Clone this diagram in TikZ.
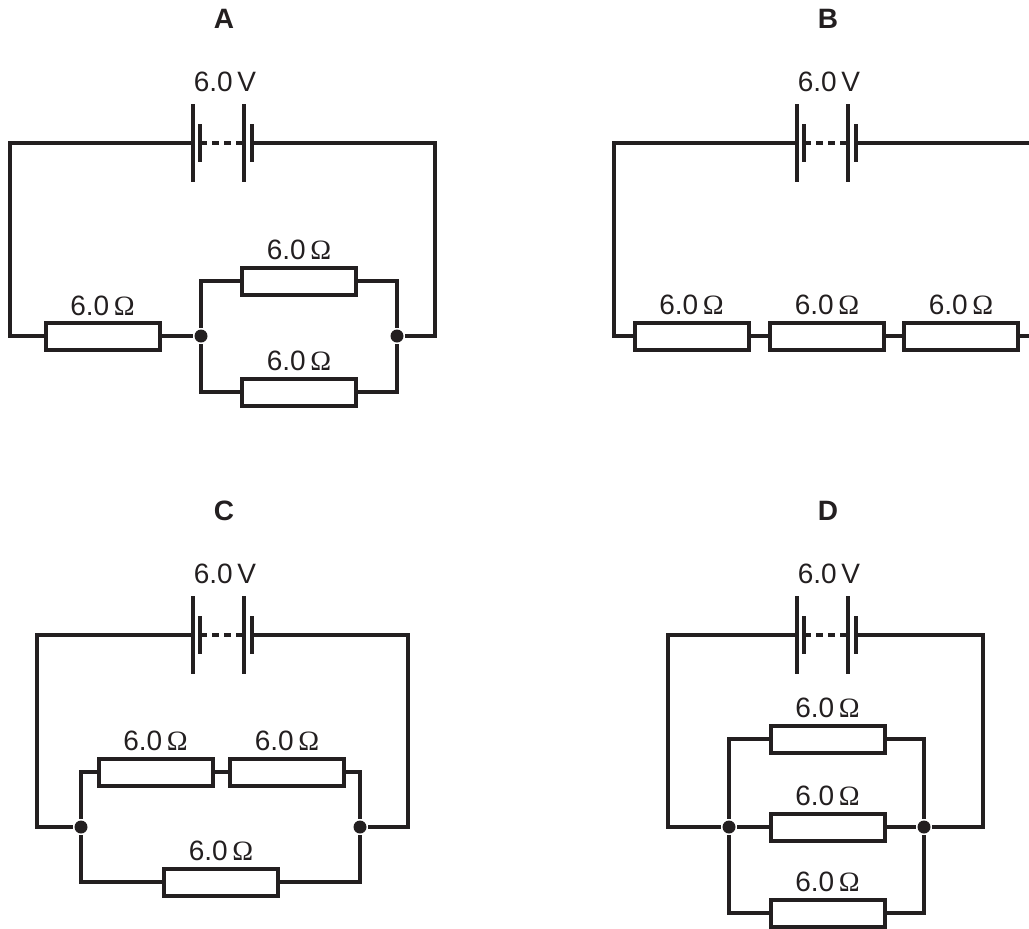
\documentclass[tikz,border=0pt]{standalone}
\usepackage{fontspec}
\setmainfont{Liberation Sans}
\newfontfamily\ohmfont{Liberation Serif}
\usepackage{tikz}
\usetikzlibrary{positioning,calc}
\definecolor{ink}{HTML}{231F20}
\newcommand{\ohms}{6.0\,{\ohmfont Ω}}

\begin{document}
\begin{tikzpicture}[x=0.5pt,y=-0.5pt,
    line width=1.7pt, draw=ink, text=ink,
    res/.style={draw, fill=white, rectangle, line width=2pt, inner sep=0pt, minimum width=57pt, minimum height=13.5pt},
    dot/.style={circle, fill=ink, draw=none, inner sep=0pt, minimum size=6.5pt},
    val/.style={inner sep=0pt, font=\fontsize{14}{16}\selectfont},
    title/.style={inner sep=0pt, font=\fontsize{14}{16}\selectfont\bfseries}]
    \useasboundingbox (0,0) rectangle (1029,928);
    \clip (0,0) rectangle (1029,928);

    % Batteries, titles and e.m.f. labels
    \foreach \c/\x/\y in {A/193/143, B/797/143, C/193/635, D/797/635}{
        \node[title] (title-\c) at (\x+31,\y-124) {\c};
        \node[val] (emf-\c) at (\x+32,\y-61) {6.0\,V};
        \coordinate (bat-\c-l) at (\x,\y); % negative terminal
        \coordinate (bat-\c-r) at (\x+59,\y); % positive terminal
        \draw (\x,\y-39) -- (\x,\y+39); % long plate
        \draw (\x+7,\y-19) -- (\x+7,\y+19); % short plate
        \draw[dash pattern=on 3.5pt off 2.5pt] (\x+7,\y) -- (\x+51,\y);
        \draw (\x+51,\y-39) -- (\x+51,\y+39);
        \draw (\x+59,\y-19) -- (\x+59,\y+19);
    }

    % Circuit A
    \coordinate (A-tl) at (10,143);
    \coordinate (A-br) at (435,336);
    \node[res] (A-R1) at (102.5,336) {};
    \node[res] (A-R2) at (299,281) {};
    \node[res] (A-R3) at (299,392) {};
    \node[val] (A-v1) at (102.5,306) {\ohms};
    \node[val] (A-v2) at (299,250) {\ohms};
    \node[val] (A-v3) at (299,361) {\ohms};
    \node[dot] (A-j1) at (201,336) {};
    \node[dot] (A-j2) at (397,336) {};
    \draw (bat-A-l) -- (A-tl) |- (A-R1);
    \draw (A-R1) -- (A-j1);
    \draw (A-j1) |- (A-R2);
    \draw (A-R2) -| (A-j2);
    \draw (A-j1) |- (A-R3);
    \draw (A-R3) -| (A-j2);
    \draw (A-j2) -- (A-br) |- (bat-A-r);

    % Circuit B
    \coordinate (B-tl) at (614,143);
    \coordinate (B-br) at (1040,336);
    \node[res] (B-R1) at (691.5,336) {};
    \node[res] (B-R2) at (827,336) {};
    \node[res] (B-R3) at (961,336) {};
    \node[val] (B-v1) at (691.5,305) {\ohms};
    \node[val] (B-v2) at (827,305) {\ohms};
    \node[val] (B-v3) at (961,305) {\ohms};
    \draw (bat-B-l) -- (B-tl) |- (B-R1);
    \draw (B-R1) -- (B-R2);
    \draw (B-R2) -- (B-R3);
    \draw (B-R3) -- (B-br) |- (bat-B-r);

    % Circuit C
    \coordinate (C-tl) at (37,635);
    \coordinate (C-br) at (408,827);
    \node[res] (C-R1) at (155.5,772) {};
    \node[res] (C-R2) at (287,772) {};
    \node[res] (C-R3) at (221,882) {};
    \node[val] (C-v1) at (155.5,741) {\ohms};
    \node[val] (C-v2) at (287,741) {\ohms};
    \node[val] (C-v3) at (221,851) {\ohms};
    \node[dot] (C-j1) at (81,827) {};
    \node[dot] (C-j2) at (360,827) {};
    \draw (bat-C-l) -- (C-tl) |- (C-j1);
    \draw (C-j1) |- (C-R1);
    \draw (C-R1) -- (C-R2);
    \draw (C-R2) -| (C-j2);
    \draw (C-j1) |- (C-R3);
    \draw (C-R3) -| (C-j2);
    \draw (C-j2) -- (C-br) |- (bat-C-r);

    % Circuit D
    \coordinate (D-tl) at (668,635);
    \coordinate (D-br) at (983,827);
    \node[res] (D-R1) at (827.5,739) {};
    \node[res] (D-R2) at (827.5,827) {};
    \node[res] (D-R3) at (827.5,913) {};
    \node[val] (D-v1) at (827.5,708) {\ohms};
    \node[val] (D-v2) at (827.5,796) {\ohms};
    \node[val] (D-v3) at (827.5,882) {\ohms};
    \node[dot] (D-j1) at (729,827) {};
    \node[dot] (D-j2) at (924,827) {};
    \draw (bat-D-l) -- (D-tl) |- (D-j1);
    \draw (D-j1) |- (D-R1);
    \draw (D-R1) -| (D-j2);
    \draw (D-j1) -- (D-R2);
    \draw (D-R2) -- (D-j2);
    \draw (D-j1) |- (D-R3);
    \draw (D-R3) -| (D-j2);
    \draw (D-j2) -- (D-br) |- (bat-D-r);
\end{tikzpicture}
\end{document}
